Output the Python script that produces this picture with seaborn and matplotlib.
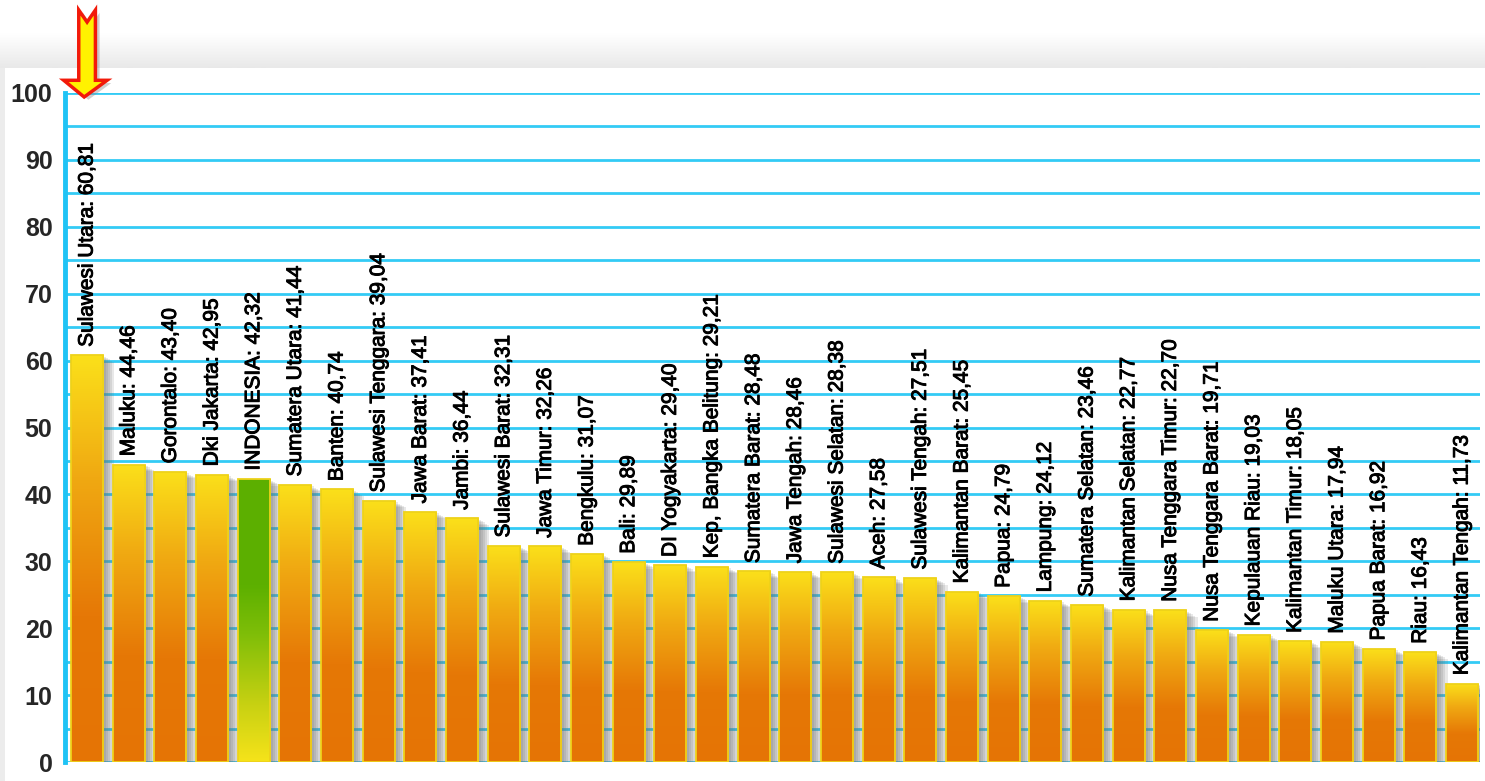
import numpy as np
import pandas as pd
import seaborn as sns
import matplotlib.pyplot as plt
import matplotlib.patheffects as pe
from matplotlib.patches import Rectangle, Polygon
from matplotlib.colors import LinearSegmentedColormap
from matplotlib.ticker import MultipleLocator

regions = ['Sulawesi Utara', 'Maluku', 'Gorontalo', 'Dki Jakarta', 'INDONESIA',
           'Sumatera Utara', 'Banten', 'Sulawesi Tenggara', 'Jawa Barat', 'Jambi',
           'Sulawesi Barat', 'Jawa Timur', 'Bengkulu', 'Bali', 'DI Yogyakarta',
           'Kep. Bangka Belitung', 'Sumatera Barat', 'Jawa Tengah', 'Sulawesi Selatan',
           'Aceh', 'Sulawesi Tengah', 'Kalimantan Barat', 'Papua', 'Lampung',
           'Sumatera Selatan', 'Kalimantan Selatan', 'Nusa Tenggara Timur',
           'Nusa Tenggara Barat', 'Kepulauan Riau', 'Kalimantan Timur', 'Maluku Utara',
           'Papua Barat', 'Riau', 'Kalimantan Tengah']
values = [60.81, 44.46, 43.40, 42.95, 42.32, 41.44, 40.74, 39.04, 37.41, 36.44,
          32.31, 32.26, 31.07, 29.89, 29.40, 29.21, 28.48, 28.46, 28.38, 27.58,
          27.51, 25.45, 24.79, 24.12, 23.46, 22.77, 22.70, 19.71, 19.03, 18.05,
          17.94, 16.92, 16.43, 11.73]
highlight = 'INDONESIA'

df = pd.DataFrame({'region': regions, 'value': values})

sns.set_style('white')
plt.rcParams['font.family'] = ['Liberation Sans', 'DejaVu Sans']

orange_cmap = LinearSegmentedColormap.from_list(
    'orange', [(0.0, '#E57405'), (0.36, '#E67806'), (0.7, '#F0A912'), (1.0, '#FBE01A')])
green_cmap = LinearSegmentedColormap.from_list(
    'green', [(0.0, '#F6E31A'), (0.2, '#C8D112'), (0.45, '#7FBE08'), (0.62, '#5DB000'), (1.0, '#5CAF00')])

W, H = 1485, 781
fig = plt.figure(figsize=(W / 100, H / 100), dpi=100, facecolor='white')

# background: grey band at top, thin grey strip at left
bg = fig.add_axes([0, 0, 1, 1], zorder=-10)
grad = np.linspace(0, 1, 64).reshape(-1, 1)
bg.imshow(grad, extent=[0, W, 68, 0], aspect='auto',
          cmap=LinearSegmentedColormap.from_list('bg', ['#FFFFFF', '#FFFFFF', '#E9E9E9']))
bg.add_patch(Rectangle((0, 68), 5, H - 68, color='#ECECEC', lw=0))
bg.set_xlim(0, W)
bg.set_ylim(H, 0)
bg.axis('off')

ax = fig.add_axes([65 / W, 19 / H, (1480 - 65) / W, (762 - 93) / H])
ax.set_facecolor('none')

base = ['#5DB000' if r == highlight else '#E67705' for r in regions]
sns.barplot(data=df, x='region', y='value', hue='region', palette=base,
            legend=False, width=0.77, saturation=1, ax=ax)

gradient = np.linspace(0, 1, 256).reshape(-1, 1)
shadow = [pe.SimplePatchShadow(offset=(o, -o * 0.6), shadow_rgbFace='#707070', alpha=0.16)
          for o in (2, 3.5, 5, 6.5, 8)] + [pe.Normal()]
for p in list(ax.patches):
    x, w, h = p.get_x(), p.get_width(), p.get_height()
    i = int(round(x + w / 2))
    p.set_edgecolor('none')
    p.set_zorder(2)
    p.set_path_effects(shadow)
    cmap = green_cmap if regions[i] == highlight else orange_cmap
    im = ax.imshow(gradient, origin='lower', extent=[x, x + w, 0, h],
                   aspect='auto', cmap=cmap, zorder=2.1)
    im.set_clip_path(p)
    ax.add_patch(Rectangle((x, 0), w, h, fill=False, ec='#EED21A', lw=1.3, zorder=2.2))

thick = [pe.withStroke(linewidth=0.7, foreground='black')]
for i, (r, v) in enumerate(zip(regions, values)):
    ax.annotate(f"{r}: {v:.2f}".replace('.', ','), xy=(i, v), xytext=(0, 6),
                textcoords='offset points', rotation=90, ha='center', va='bottom',
                fontsize=15, color='black', zorder=4, path_effects=thick)

ax.set_xlim(-0.53, len(regions) - 1 + 0.43)
ax.set_ylim(0, 100)
ax.set_xlabel('')
ax.set_ylabel('')
ax.set_xticks([])
ax.yaxis.set_major_locator(MultipleLocator(10))
ax.yaxis.set_minor_locator(MultipleLocator(5))
ax.grid(which='both', axis='y', color='#33CBF5', lw=2)
ax.set_axisbelow(True)
for s in ['top', 'right', 'bottom']:
    ax.spines[s].set_visible(False)
ax.spines['left'].set_color('#1FC3F5')
ax.spines['left'].set_linewidth(3.5)
ax.tick_params(axis='y', which='major', length=5, width=3, color='#1FC3F5',
               labelsize=18, pad=4)
ax.tick_params(axis='y', which='minor', length=0)
for t in ax.get_yticklabels():
    t.set_fontweight('bold')

# arrow marking the top of the scale above the first bar
cx = 0
arrow = Polygon([(cx - 0.2, 112.4), (cx, 110.6), (cx + 0.2, 112.4), (cx + 0.2, 101.9),
                 (cx + 0.48, 101.9), (cx - 0.07, 99.4), (cx - 0.56, 101.9),
                 (cx - 0.2, 101.9)],
                closed=True, fc='#FFF200', ec='#F21A0A', lw=2.5, clip_on=False, zorder=6,
                path_effects=[pe.SimplePatchShadow(offset=(3, -2), shadow_rgbFace='#888888', alpha=0.4),
                              pe.Normal()])
ax.add_patch(arrow)

fig.savefig('out.png', dpi=100)
